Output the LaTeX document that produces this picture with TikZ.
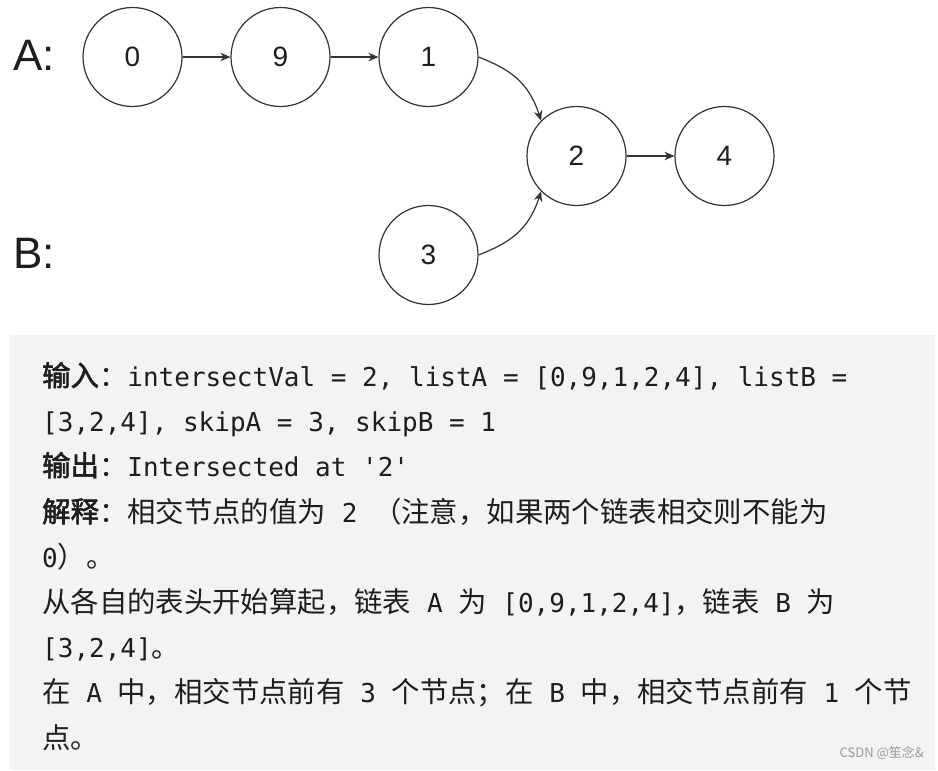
\documentclass[tikz,border=0pt]{standalone}
\usepackage{fontspec}
\setmainfont{Liberation Sans}
\newfontfamily\cjk{Noto Sans CJK SC}
\newfontfamily\cjkb[FakeBold=2]{Noto Sans CJK SC}
\newfontfamily\mono{DejaVu Sans Mono}
\usetikzlibrary{arrows.meta}
\definecolor{boxbg}{HTML}{F2F3F5}
\definecolor{linec}{HTML}{333333}
\definecolor{txt}{HTML}{1E1E1E}
\definecolor{wmc}{HTML}{9A9A9A}
\newcommand\zh[1]{{\cjk\fontsize{28.4}{28.4}\selectfont #1}}
\newcommand\zhb[1]{{\cjkb\fontsize{28.4}{28.4}\selectfont #1}}
\begin{document}
\begin{tikzpicture}[x=1pt,y=-1pt,
  listnode/.style={circle,draw=linec,line width=1.2pt,minimum size=99pt,inner sep=0pt,font=\fontsize{28}{28}\selectfont,text=txt},
  link/.style={draw=linec,line width=1.2pt,-{Stealth[length=10pt,width=8.5pt]}},
  biglabel/.style={anchor=base west,inner sep=0pt,font=\fontsize{44}{44}\selectfont,text=txt},
  codeline/.style={anchor=base west,inner sep=0pt,font=\mono\fontsize{26}{26}\selectfont,text=txt}]
\useasboundingbox (0,0) rectangle (938,771);
\fill[white] (0,0) rectangle (938,771);
\fill[boxbg] (10,335) rectangle (935,770);

\node[biglabel] (la) at (13,70) {A:};
\node[biglabel] (lb) at (13,268) {B:};

\node[listnode] (n0) at (132.5,57) {0};
\node[listnode] (n9) at (280.5,57) {9};
\node[listnode] (n1) at (428.5,57) {1};
\node[listnode] (n2) at (576.5,156) {2};
\node[listnode] (n4) at (724.5,156) {4};
\node[listnode] (n3) at (428.5,255) {3};

\draw[link] (n0) -- (n9);
\draw[link] (n9) -- (n1);
\draw[link] (n2) -- (n4);
\draw[link] (n1.east) .. controls +(30,12) and +(-13,-40) .. (n2.135);
\draw[link] (n3.east) .. controls +(30,-12) and +(-13,40) .. (n2.225);

\node[codeline] (l1) at (42,386) {\zhb{输入}\zh{：}intersectVal = 2, listA = [0,9,1,2,4], listB =};
\node[codeline] (l2) at (42,431) {[3,2,4], skipA = 3, skipB = 1};
\node[codeline] (l3) at (42,476) {\zhb{输出}\zh{：}Intersected at '2'};
\node[codeline] (l4) at (42,522) {\zhb{解释}\zh{：相交节点的值为} 2 \zh{（注意，如果两个链表相交则不能为}};
\node[codeline] (l5) at (42,567) {0\zh{）。}};
\node[codeline] (l6) at (42,612) {\zh{从各自的表头开始算起，链表} A \zh{为} [0,9,1,2,4]\zh{，链表} B \zh{为}};
\node[codeline] (l7) at (42,657) {[3,2,4]\zh{。}};
\node[codeline] (l8) at (42,702) {\zh{在} A \zh{中，相交节点前有} 3 \zh{个节点；在} B \zh{中，相交节点前有} 1 \zh{个节}};
\node[codeline] (l9) at (42,748) {\zh{点。}};

\node[anchor=base east,inner sep=0pt,font=\cjk\fontsize{13}{13}\selectfont,text=wmc] (wm) at (924,757) {CSDN @笙念\&};
\end{tikzpicture}
\end{document}
